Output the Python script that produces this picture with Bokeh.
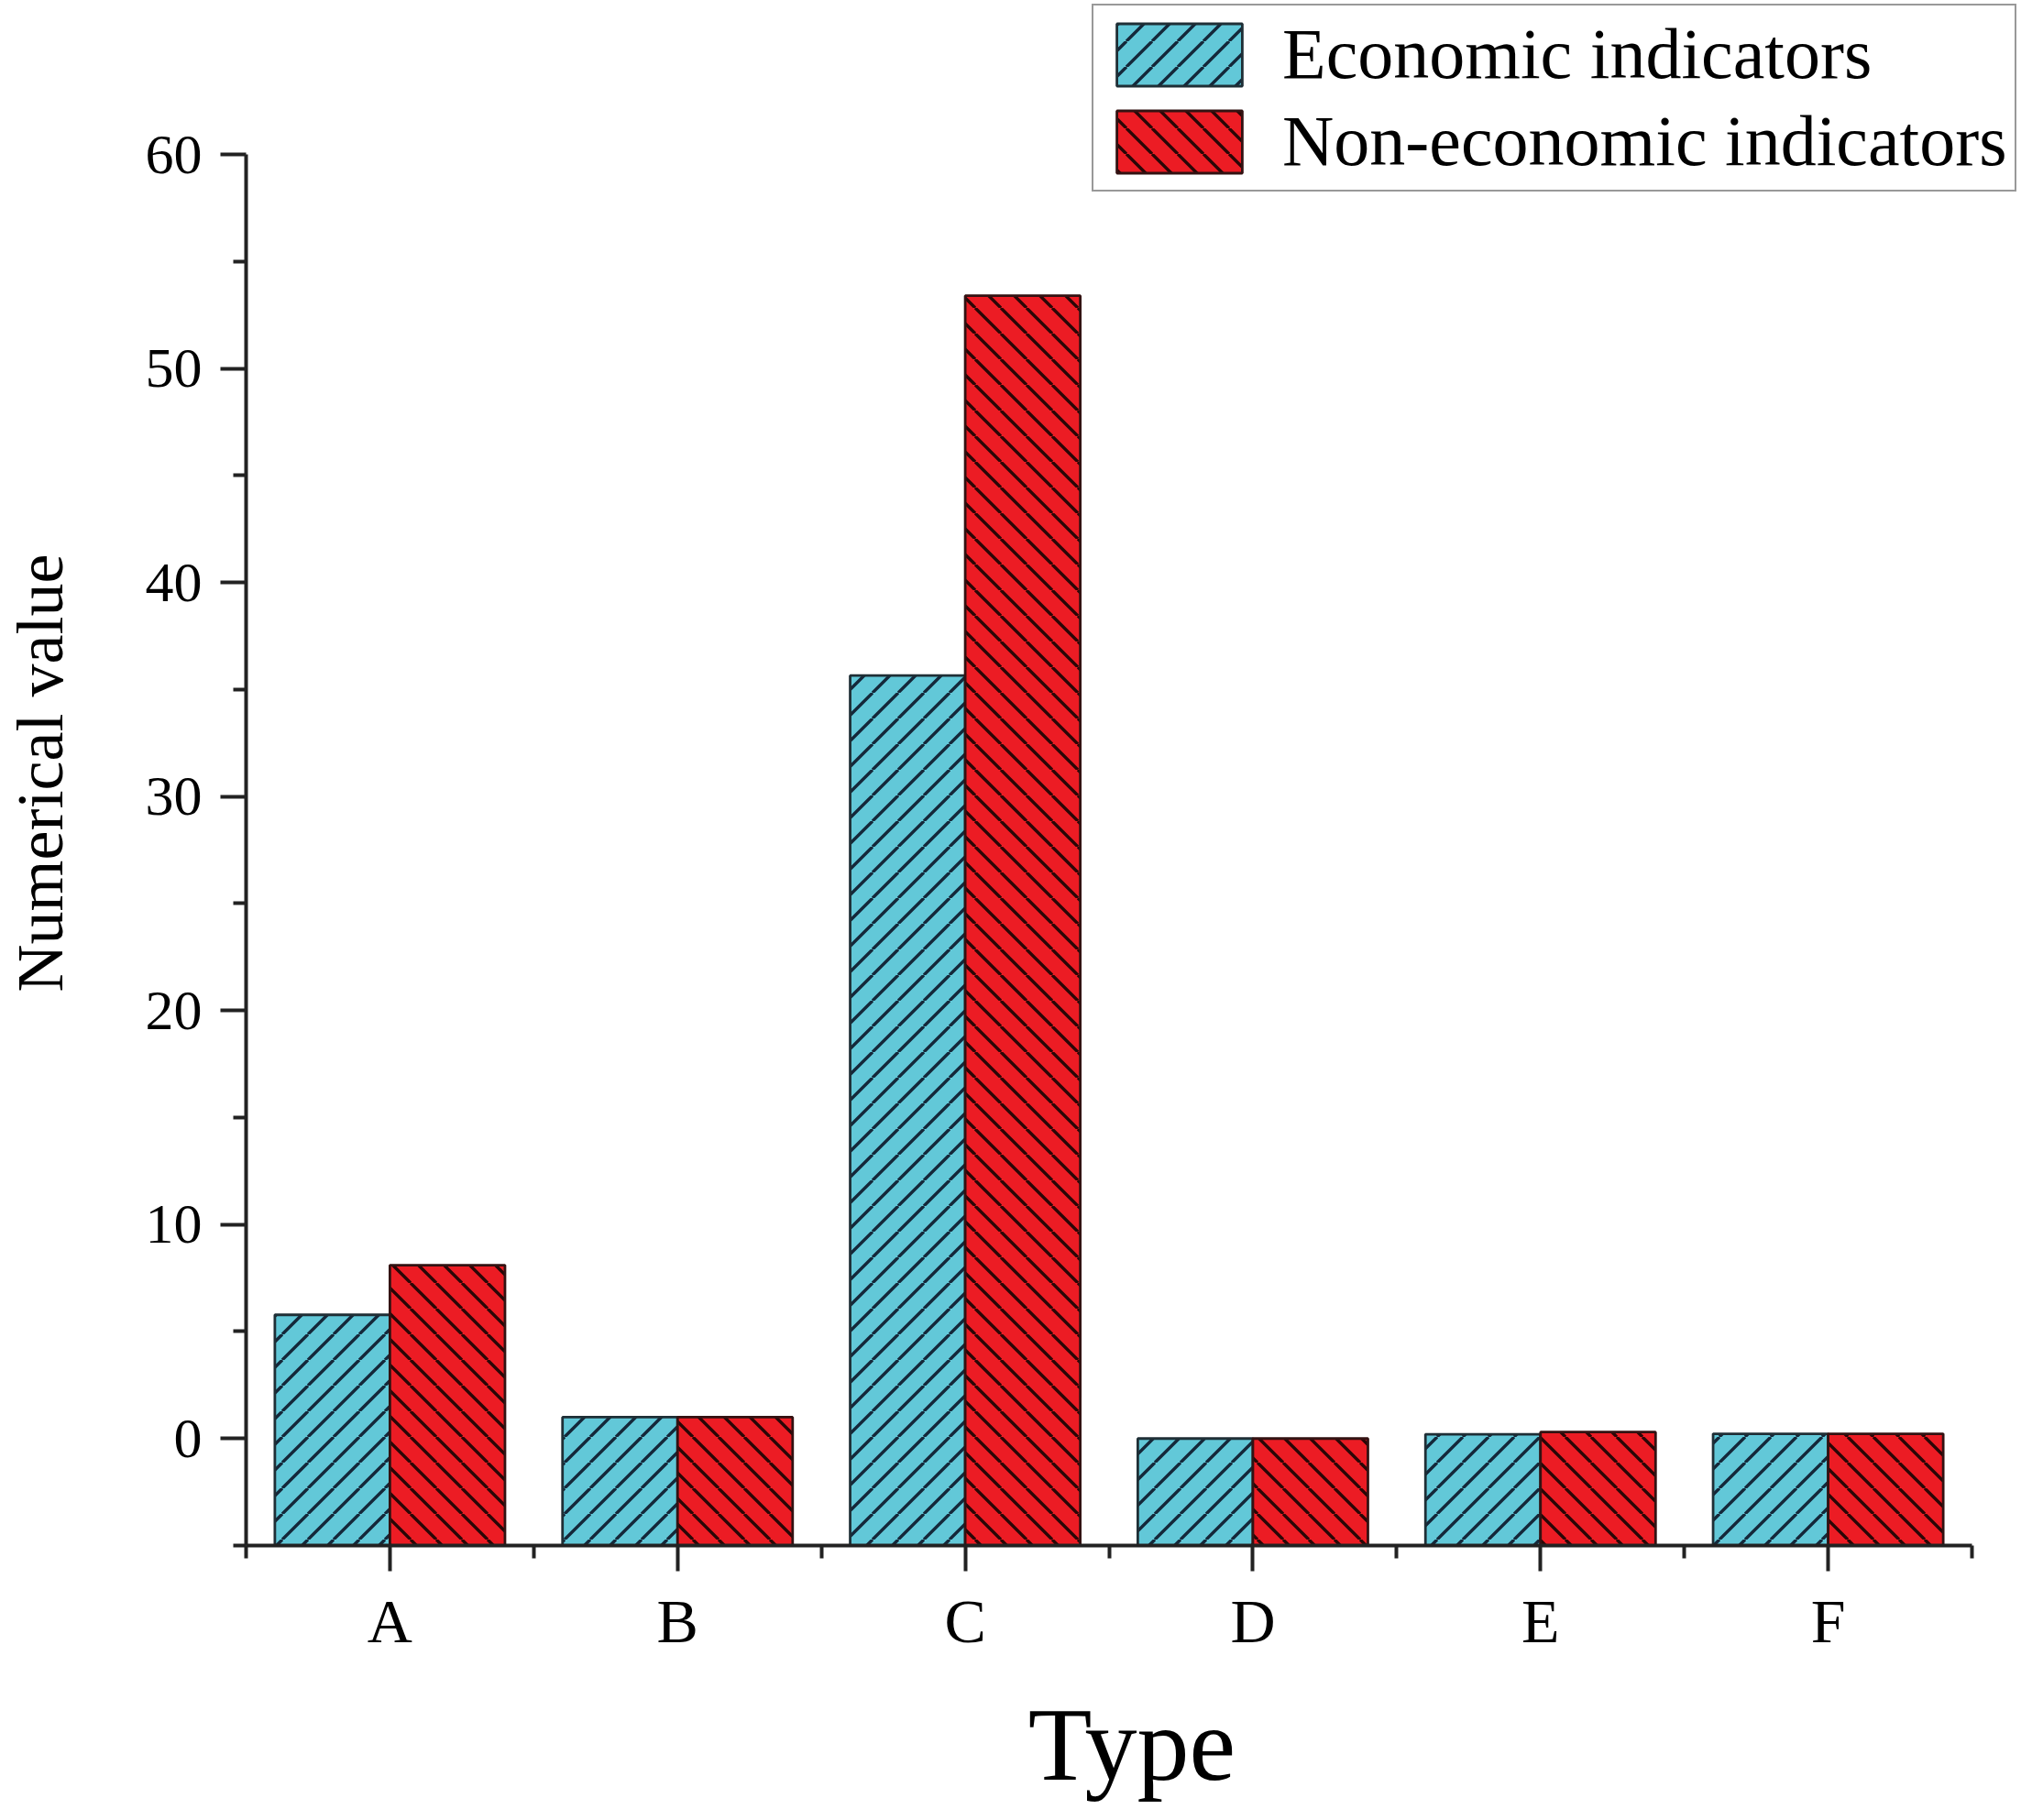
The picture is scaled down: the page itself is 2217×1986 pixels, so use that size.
import base64
from bokeh.plotting import figure
from bokeh.models import (ColumnDataSource, FixedTicker, Range1d, Legend, LegendItem, ImageURLTexture)
from bokeh.core.properties import value
from bokeh.transform import dodge
from bokeh.embed import file_html
from bokeh.resources import INLINE

# ---- data ----
categories = ["A", "B", "C", "D", "E", "F"]
positions = [1, 2, 3, 4, 5, 6]
economic = [5.78, 1.0, 35.65, 0.0, 0.2, 0.22]
non_economic = [8.1, 1.0, 53.4, 0.0, 0.3, 0.22]
y_major_ticks = [0, 10, 20, 30, 40, 50, 60]
y_minor_ticks = [-5, 5, 15, 25, 35, 45, 55]
x_minor_ticks = [0.5, 1.5, 2.5, 3.5, 4.5, 5.5, 6.5]
y_bounds = (-5, 60)
x_bounds = (0.5, 6.5)

FONT = "Liberation Serif"
CYAN = "#62C8D8"
RED = "#EC1C24"

# ---- layout (pixels) ----
W, H = 2201, 1970
LEFT, BOTTOM = 267, 284
AXIS_W, AXIS_H = 1884, 1518     # pixel length of the drawn axes
frame_w = W - LEFT
frame_h = H - BOTTOM
x_end = x_bounds[0] + (x_bounds[1] - x_bounds[0]) * frame_w / AXIS_W
y_end = y_bounds[0] + (y_bounds[1] - y_bounds[0]) * frame_h / AXIS_H


def tile(direction, color, weight, size=28):
    s = size
    if direction == "fwd":
        d = f"M{-s},{s}L0,0M0,{s}L{s},0M{s},{s}L{2*s},0"
    else:
        d = f"M{-s},0L0,{s}M0,0L{s},{s}M{s},0L{2*s},{s}"
    svg = (f"<svg xmlns='http://www.w3.org/2000/svg' width='{s}' height='{s}' "
           f"viewBox='0 0 {s} {s}'><path d='{d}' stroke='{color}' stroke-width='{weight}' "
           f"fill='none'/></svg>")
    return "data:image/svg+xml;base64," + base64.b64encode(svg.encode()).decode()


fwd = ImageURLTexture(url=tile("fwd", "#14283a", 3.4))
bwd = ImageURLTexture(url=tile("bwd", "#2a0606", 3.4))

src = ColumnDataSource(dict(x=positions, eco=economic, non=non_economic, cat=categories))

p = figure(width=W, height=H, output_backend="svg", toolbar_location=None,
           x_range=Range1d(x_bounds[0], x_end), y_range=Range1d(y_bounds[0], y_end),
           min_border_left=LEFT, min_border_right=0, min_border_top=0,
           min_border_bottom=BOTTOM)
p.outline_line_color = None
p.grid.visible = False
p.background_fill_color = "white"

base = y_bounds[0]

r1 = p.vbar(x=dodge("x", -0.2, range=p.x_range), top="eco", bottom=base, width=0.4, source=src,
            fill_color=CYAN, line_color="#1f2f36", line_width=2.8,
            hatch_pattern=value("fwd"), hatch_extra={"fwd": fwd})
r2 = p.vbar(x=dodge("x", 0.2, range=p.x_range), top="non", bottom=base, width=0.4, source=src,
            fill_color=RED, line_color="#331212", line_width=2.8,
            hatch_pattern=value("bwd"), hatch_extra={"bwd": bwd})

# axes
for ax in (p.xaxis[0], p.yaxis[0]):
    ax.axis_line_width = 4
    ax.axis_line_color = "#222222"
    ax.major_tick_line_width = 4
    ax.minor_tick_line_width = 4
    ax.major_tick_line_color = "#222222"
    ax.minor_tick_line_color = "#222222"
    ax.major_tick_in = 0
    ax.major_tick_out = 28
    ax.minor_tick_in = 0
    ax.minor_tick_out = 14
    ax.major_label_text_font = FONT
    ax.major_label_text_color = "black"
    ax.axis_label_text_font = FONT
    ax.axis_label_text_font_style = "normal"
    ax.axis_label_text_color = "black"

p.yaxis.bounds = y_bounds
p.yaxis.ticker = FixedTicker(ticks=y_major_ticks, minor_ticks=y_minor_ticks)
p.yaxis.major_label_text_font_size = "62px"
p.yaxis.major_label_standoff = 20
p.yaxis.axis_label = "Numerical value"
p.yaxis.axis_label_text_font_size = "72px"
p.yaxis.axis_label_standoff = 72

p.xaxis.bounds = x_bounds
p.xaxis.ticker = FixedTicker(ticks=positions, minor_ticks=x_minor_ticks)
p.xaxis.major_label_overrides = {pos: c for pos, c in zip(positions, categories)}
p.xaxis.major_label_text_font_size = "68px"
p.xaxis.major_label_standoff = 16
p.xaxis.axis_label = "Type"
p.xaxis.axis_label_text_font_size = "114px"
p.xaxis.axis_label_text_line_height = 1.0
p.xaxis.axis_label_standoff = 30

LEG_H = 205
legend = Legend(items=[LegendItem(label="Economic indicators", renderers=[r1]),
                       LegendItem(label="Non-economic indicators", renderers=[r2])],
                location=(1190 - LEFT, frame_h - 4 - LEG_H))
legend.label_text_font = FONT
legend.label_text_font_size = "78px"
legend.label_text_color = "black"
legend.glyph_width = 171
legend.glyph_height = 85
legend.label_height = 85
legend.label_standoff = 27
legend.spacing = 5
legend.padding = 8
legend.margin = 0
legend.border_line_color = "#333333"
legend.border_line_width = 2
legend.background_fill_color = "white"
legend.background_fill_alpha = 1.0
p.add_layout(legend, "center")

open("out.html", "w").write(file_html(p, INLINE))
